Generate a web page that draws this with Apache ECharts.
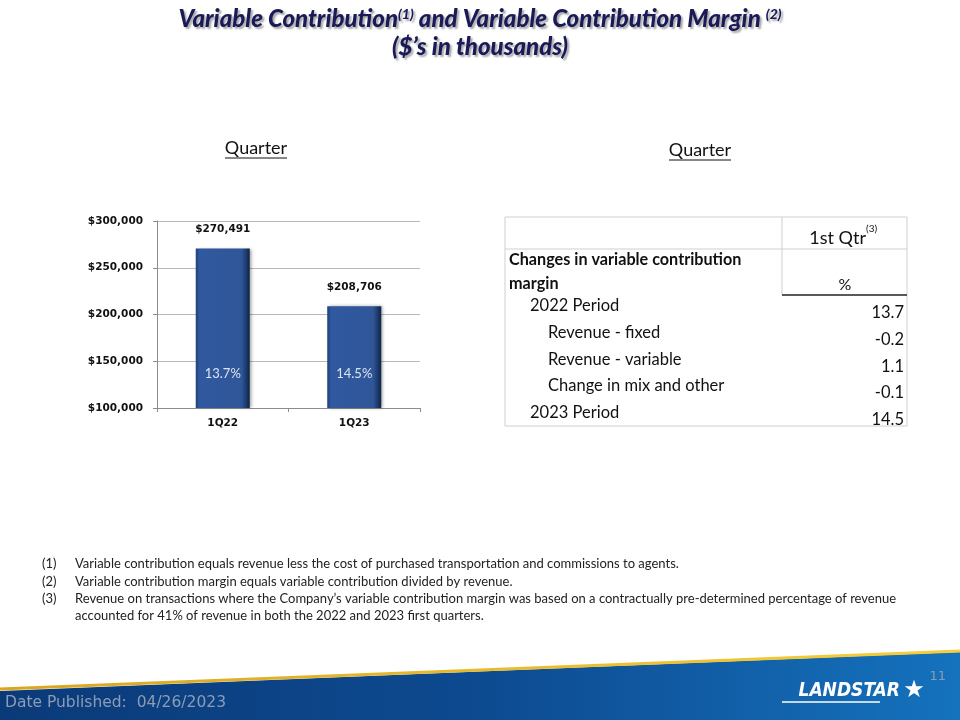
<!DOCTYPE html>
<html><head><meta charset="utf-8">
<script src="https://cdn.jsdelivr.net/npm/echarts@6/dist/echarts.min.js"></script>
<style>html,body{margin:0;padding:0;background:#fff;}#c{width:960px;height:720px;}</style>
</head><body><div id="c"></div>
<script>
// ---- data ----
var categories = ['1Q22', '1Q23'];
var contribution = [270491, 208706];
var marginLabels = ['13.7%', '14.5%'];
var yTicks = [100000, 150000, 200000, 250000, 300000];
var tableRows = ['2022 Period', 'Revenue - fixed', 'Revenue - variable', 'Change in mix and other', '2023 Period'];
var tableIndent = [1, 2, 2, 2, 1];
var tableValues = ['13.7', '-0.2', '1.1', '-0.1', '14.5'];
var footnotes = [
  ['(1)', 'Variable contribution equals revenue less the cost of purchased transportation and commissions to agents.'],
  ['(2)', 'Variable contribution margin equals variable contribution divided by revenue.'],
  ['(3)', 'Revenue on transactions where the Company\u2019s variable contribution margin was based on a contractually pre-determined percentage of revenue'],
  ['', 'accounted for 41% of revenue in both the 2022 and 2023 first quarters.']
];

function fmt(v){ return '$' + v.toString().replace(/\B(?=(\d{3})+(?!\d))/g, ','); }

var chart = echarts.init(document.getElementById('c'), null, {renderer:'canvas'});

var graphics = [];
// Banner
graphics.push({type:'polygon', shape:{points:[[0,691],[960,652],[960,720],[0,720]]},
  style:{fill:new echarts.graphic.LinearGradient(0,0,1,0,[{offset:0,color:'#0b3a78'},{offset:0.5,color:'#0d4a90'},{offset:1,color:'#1572bd'}])}, z:1});
graphics.push({type:'polyline', shape:{points:[[0,689],[960,651]]},
  style:{stroke:new echarts.graphic.LinearGradient(0,0,1,0,[{offset:0,color:'#d9a520'},{offset:1,color:'#f6cf3a'}]), lineWidth:3}, z:2});
graphics.push({type:'text', x:5, y:703, style:{text:'Date Published:  04/26/2023', fill:'#8b9cb6', font:'15.5px "DejaVu Sans"', verticalAlign:'middle'}, z:3});
graphics.push({type:'text', x:946, y:677, style:{text:'11', fill:'#8c9bb0', font:'13px "DejaVu Sans"', align:'right', verticalAlign:'middle'}, z:3});
graphics.push({type:'text', x:900, y:691, style:{text:'LANDSTAR', fill:'#ffffff', font:'italic bold 19px "DejaVu Sans Condensed", "DejaVu Sans"', align:'right', verticalAlign:'middle'}, z:3});
graphics.push({type:'text', x:914, y:691, style:{text:'\u2605', fill:'#ffffff', font:'24px "DejaVu Sans"', align:'center', verticalAlign:'middle'}, z:3});
graphics.push({type:'line', shape:{x1:782, y1:702, x2:880, y2:702}, style:{stroke:'#ffffff', lineWidth:1.5}, z:3});

// Title
var titleRich = {
  t:{font:'italic 900 24px Lato', fill:'#1a1a58', textShadowColor:'rgba(0,0,0,0.35)', textShadowOffsetX:2, textShadowOffsetY:2, textShadowBlur:2},
  s:{font:'italic 900 14px Lato', fill:'#1a1a58', verticalAlign:'top', textShadowColor:'rgba(0,0,0,0.35)', textShadowOffsetX:2, textShadowOffsetY:2, textShadowBlur:2}
};
graphics.push({type:'text', x:480, y:19, style:{text:'{t|Variable Contribution}{s|(1)}{t| and Variable Contribution Margin }{s|(2)}', rich:titleRich, align:'center', verticalAlign:'middle'}});
graphics.push({type:'text', x:480, y:47, style:{text:'{t|($\u2019s in thousands)}', rich:titleRich, align:'center', verticalAlign:'middle'}});

// Quarter labels
[[256,148],[700,150]].forEach(function(p){
  graphics.push({type:'text', x:p[0], y:p[1], style:{text:'Quarter', font:'18px Lato', fill:'#111', align:'center', verticalAlign:'middle'}});
  graphics.push({type:'line', shape:{x1:p[0]-31, y1:p[1]+10, x2:p[0]+31, y2:p[1]+10}, style:{stroke:'#111', lineWidth:1}});
});

// Table
var tL = 505, tR = 907, tT = 217, tB = 426, tC = 782;
graphics.push({type:'rect', shape:{x:tL, y:tT, width:tR-tL, height:tB-tT}, style:{fill:'none', stroke:'#cfcfcf', lineWidth:1}});
graphics.push({type:'line', shape:{x1:tC, y1:tT, x2:tC, y2:295}, style:{stroke:'#cfcfcf', lineWidth:1}});
graphics.push({type:'line', shape:{x1:tL, y1:249, x2:tR, y2:249}, style:{stroke:'#cfcfcf', lineWidth:1}});
graphics.push({type:'line', shape:{x1:tC, y1:295, x2:tR, y2:295}, style:{stroke:'#222', lineWidth:1.5}});
graphics.push({type:'text', x:866, y:238, style:{text:'1st Qtr', font:'18px Lato', fill:'#111', align:'right', verticalAlign:'middle'}});
graphics.push({type:'text', x:866, y:229, style:{text:'(3)', font:'10px Lato', fill:'#111', align:'left', verticalAlign:'middle'}});
graphics.push({type:'text', x:509, y:260, style:{text:'Changes in variable contribution', font:'bold 16.2px Lato', fill:'#111', verticalAlign:'middle'}});
graphics.push({type:'text', x:509, y:284, style:{text:'margin', font:'bold 16.2px Lato', fill:'#111', verticalAlign:'middle'}});
graphics.push({type:'text', x:845, y:285, style:{text:'%', font:'16px Lato', fill:'#111', align:'center', verticalAlign:'middle'}});
tableRows.forEach(function(r, i){
  var y = 306 + i*26.7;
  graphics.push({type:'text', x: tableIndent[i]===1 ? 530 : 548, y:y, style:{text:r, font:'16.5px Lato', fill:'#111', verticalAlign:'middle'}});
  graphics.push({type:'text', x:904, y:y+7, style:{text:tableValues[i], font:'16.5px Lato', fill:'#111', align:'right', verticalAlign:'middle'}});
});

// Footnotes
footnotes.forEach(function(f, i){
  var y = 564 + i*17.4;
  if (f[0]) graphics.push({type:'text', x:42, y:y, style:{text:f[0], font:'13px Lato', fill:'#222', verticalAlign:'middle'}});
  graphics.push({type:'text', x:75, y:y, style:{text:f[1], font:'13px Lato', fill:'#222', verticalAlign:'middle'}});
});

var barColor = new echarts.graphic.LinearGradient(0,0,1,0,[
  {offset:0,color:'#1f3f78'},{offset:0.07,color:'#3159a0'},{offset:0.85,color:'#2f5698'},{offset:1,color:'#0e2447'}]);

chart.setOption({
  animation:false,
  backgroundColor:'#ffffff',
  grid:{left:157, right:540, top:221, bottom:312},
  xAxis:{type:'category', data:categories,
    axisLine:{lineStyle:{color:'#8c8c8c'}},
    axisTick:{show:true, alignWithLabel:false, length:4, lineStyle:{color:'#8c8c8c'}},
    axisLabel:{color:'#111', fontFamily:'DejaVu Sans', fontWeight:'bold', fontSize:10.5, margin:10}},
  yAxis:{type:'value', min:yTicks[0], max:yTicks[yTicks.length-1], interval:yTicks[1]-yTicks[0],
    axisLine:{show:true, lineStyle:{color:'#8c8c8c'}},
    axisTick:{show:true, length:4, lineStyle:{color:'#8c8c8c'}},
    splitLine:{lineStyle:{color:'#b8b8b8'}},
    axisLabel:{color:'#111', fontFamily:'DejaVu Sans', fontWeight:'bold', fontSize:10.5, margin:14, formatter:fmt}},
  series:[
    {type:'bar', data:contribution, barWidth:54,
      itemStyle:{color:barColor, shadowColor:'rgba(0,0,0,0.35)', shadowBlur:3, shadowOffsetX:2, shadowOffsetY:0},
      label:{show:true, position:'top', distance:14, formatter:function(p){return fmt(p.value);},
        color:'#111', fontFamily:'DejaVu Sans', fontWeight:'bold', fontSize:10.5}},
    {type:'bar', data:contribution, barWidth:54, barGap:'-100%', silent:true,
      itemStyle:{color:'rgba(0,0,0,0)'},
      label:{show:true, position:'insideBottom', distance:28, formatter:function(p){return marginLabels[p.dataIndex];},
        color:'#dce4f2', fontFamily:'Lato', fontSize:13}}
  ],
  graphic:graphics
});
</script></body></html>
